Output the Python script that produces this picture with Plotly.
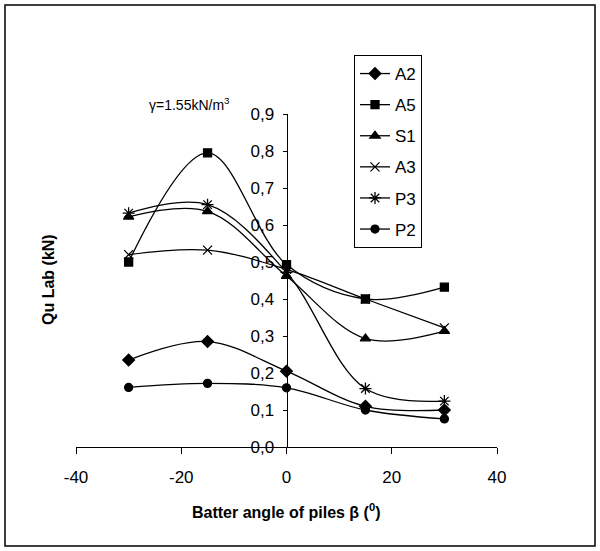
import plotly.graph_objects as go

# ---- data ----
angles = [-30, -15, 0, 15, 30]
A2 = [0.235, 0.285, 0.205, 0.110, 0.100]
A5 = [0.500, 0.795, 0.493, 0.400, 0.432]
S1 = [0.622, 0.637, 0.462, 0.293, 0.313]
A3 = [0.520, 0.532, 0.480, 0.400, 0.322]
P3 = [0.632, 0.655, 0.472, 0.158, 0.124]
P2 = [0.161, 0.172, 0.160, 0.100, 0.076]

series_names = ["A2", "A5", "S1", "A3", "P3", "P2"]
series_vals = [A2, A5, S1, A3, P3, P2]
symbols = ["diamond", "square", "triangle-up", "x-thin-open", "asterisk-open", "circle"]
sizes = [9, 8, 9, 9, 10, 8]

x_ticks = [-40, -20, 0, 20, 40]
x_tick_labels = ["-40", "-20", "0", "20", "40"]
y_ticks = [0.0, 0.1, 0.2, 0.3, 0.4, 0.5, 0.6, 0.7, 0.8, 0.9]

FONT = "Liberation Sans, Arial, sans-serif"

fig = go.Figure()
for i, (name, vals, sym, sz) in enumerate(zip(series_names, series_vals, symbols, sizes)):
    fig.add_trace(go.Scatter(
        x=angles, y=vals, name=name, mode="lines+markers",
        line=dict(color="black", width=1.3, shape="spline", smoothing=1.0),
        marker=dict(symbol=sym, size=sz, color="black",
                    line=dict(color="black", width=1.3)),
        legendgroup=name,
    ))

# plot area: x 76..497, y 114..447 px
L, R, T, B = 76, 497, 114, 447
W, H = 600, 551
pw, ph = R - L, B - T

def px(x):
    return (x - L) / pw

def py(y):
    return (B - y) / ph

fig.update_layout(
    width=W, height=H,
    margin=dict(l=L, r=W - R, t=T, b=H - B, pad=0, autoexpand=False),
    paper_bgcolor="white", plot_bgcolor="white",
    separators=",.",
    font=dict(family=FONT, size=17, color="black"),
    showlegend=True,
    legend=dict(
        x=px(354), y=py(55), xanchor="left", yanchor="top",
        bordercolor="black", borderwidth=1, bgcolor="white",
        font=dict(family=FONT, size=17, color="black"),
        tracegroupgap=6, traceorder="grouped",
    ),
    xaxis=dict(
        range=[-40, 40], tickvals=x_ticks, ticktext=x_tick_labels,
        showgrid=False, zeroline=False,
        showline=True, linecolor="black", linewidth=1,
        ticks="outside", ticklen=6, tickcolor="black",
        ticklabelstandoff=9,
        tickfont=dict(family=FONT, size=17, color="black"),
    ),
    yaxis=dict(
        range=[0, 0.9], tickvals=y_ticks, tickformat=".1f",
        anchor="free", position=0.5,
        showgrid=False, zeroline=False,
        showline=True, linecolor="black", linewidth=1,
        ticks="outside", ticklen=4, tickcolor="black",
        ticklabelstandoff=5,
        tickfont=dict(family=FONT, size=17, color="black"),
    ),
    shapes=[dict(type="rect", xref="paper", yref="paper",
                 x0=px(5), x1=px(595), y0=py(546), y1=py(5),
                 line=dict(color="black", width=1.5))],
    annotations=[
        dict(text="<b>Batter angle of piles β</b> <b>(<sup>0</sup>)</b>",
             xref="paper", yref="paper", x=px(286), y=py(511),
             xanchor="center", yanchor="middle", showarrow=False,
             font=dict(family=FONT, size=16, color="black")),
        dict(text="<b>Qu Lab (kN)</b>", textangle=-90,
             xref="paper", yref="paper", x=px(48), y=py(280),
             xanchor="center", yanchor="middle", showarrow=False,
             font=dict(family=FONT, size=16, color="black")),
        dict(text="γ=1.55kN/m<sup>3</sup>",
             xref="paper", yref="paper", x=px(147), y=py(104),
             xanchor="left", yanchor="middle", showarrow=False,
             font=dict(family=FONT, size=14, color="black")),
    ],
)

fig.write_html("out.html",
               config={"displayModeBar": False},
               post_script="document.body.style.margin='0';document.body.style.overflow='hidden';")
